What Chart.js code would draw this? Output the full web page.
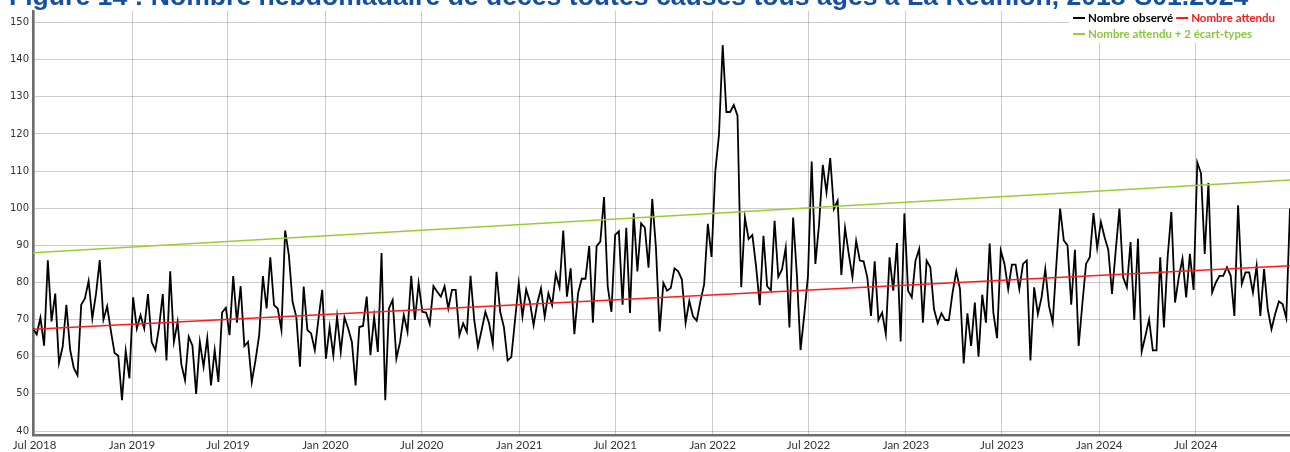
<!DOCTYPE html>
<html>
<head>
<meta charset="utf-8">
<script src="https://cdn.jsdelivr.net/npm/chart.js@4/dist/chart.umd.min.js"></script>
<style>
  html, body { margin: 0; padding: 0; background: #fff; }
  #wrap { position: relative; width: 1290px; height: 452px; }
</style>
</head>
<body>
<div id="wrap"><canvas id="deaths-chart"></canvas></div>
<script>
const TITLE = 'Figure 14 : Nombre hebdomadaire de décès toutes causes tous âges à La Réunion, 2018-S01.2024';

// weekly observed deaths, first week = end of June 2018
const firstWeek = '2018-06-28';
const observed = [
  67.6, 66, 70.5, 63, 86, 69.5, 77, 58.3, 62.7, 74,
  62, 57, 55, 74, 75.7, 80.4, 70.3, 77, 86, 70,
  73.6, 67, 61, 60.3, 48.3, 61.6, 54.2, 76, 67.6, 71.2,
  67.6, 76.9, 64, 61.8, 68, 76.9, 59, 83, 64, 69.4,
  58, 53.7, 65.4, 63, 50, 64, 57.3, 65, 52.3, 61.8,
  53.2, 71.9, 73.2, 65.8, 81.7, 69.2, 79, 62.9, 64, 53.2,
  59, 65.8, 81.7, 73, 86.8, 73.9, 73, 67.2, 94, 87.4,
  74.8, 70.8, 57.3, 78.9, 67.2, 66.3, 61.8, 70.3, 78, 59.5,
  68,
  60.4, 70.8, 61.3, 70.6, 67.6, 64, 52.3, 68, 68.3, 76.2,
  60.4, 70.8, 61.3, 87.9, 48.3, 73, 75.3, 59.5, 64, 71.2,
  66.7, 81.8, 69.9, 79.8, 72.1, 71.9, 68.8, 79, 77.5, 76.2,
  79, 73, 78, 78, 65.8, 69, 66.7, 81.8, 69.9, 62.7,
  67.2, 72.1, 69, 63.4, 82.9, 72.1, 68, 59, 59.9, 69.9,
  79.8, 70.8, 78.1, 74.8, 68.5, 74.4, 78.4, 70.8, 77.1, 73.9,
  82.3, 78.7, 94, 76.2, 83.8, 66.1, 77.1, 81, 81, 89.8,
  69.2, 89.8, 91, 103, 78.9, 72.1,
  92.8, 93.8, 74, 94.7, 71.8, 98.6, 83, 95.9, 94.8, 84,
  102.5, 89.4, 66.8, 79.9, 77.8, 78.5, 83.8, 83, 80.8, 69.1,
  75, 70.9, 69.7, 75, 79.5, 95.8, 86.9, 109.8, 119.7, 143.9,
  125.9, 125.9, 127.8, 124.9, 78.7, 97.5, 91.7, 92.8, 84.4, 73.9,
  92.6, 79, 77.8, 96.6, 81.5, 83.5, 89.4, 67.9, 97.5, 82.2,
  61.8, 71.3, 81.7,
  112.6, 85, 95.7, 111.7, 104.3, 113.5, 99.8, 102, 82, 94.7,
  87.7, 81.4, 91.2, 85.9, 85.7, 81.4, 71, 85.7, 69.9, 71.9,
  66.1, 86.8, 77.8, 90.6, 64.1, 98.6, 77.8, 76, 85.9, 89,
  69.2, 85.9, 84.1, 72.8, 69, 71.7, 69.9, 69.9, 77.3, 83,
  78.2, 58.2, 71.7, 62.9, 74.6, 60, 76.7, 69.2, 90.5, 71.9,
  65, 88.6, 85, 78.2, 84.8, 84.8, 78.2, 85, 85.9,
  59, 78.7, 71.5, 76, 83.6, 73.7, 69.2, 85, 99.9, 91.3,
  90, 74, 88.8, 62.9, 74.2, 85, 86.8, 98.7, 89.3, 96.3,
  92.2, 88.8, 76.9, 88.6, 99.9, 81.4, 78.7, 90.9, 69.9, 91.8,
  61.4, 65.6, 70.1, 61.7, 61.7, 86.8, 67.9, 86.8, 99, 74.6,
  81.4, 86.4, 76, 87.7, 78, 112.3, 109.4, 87.7, 106.8, 77.3,
  80, 81.8, 81.8, 84.1, 81.8, 71, 100.8, 79.6, 82.7, 82.7,
  77.3, 84.5, 71, 83.6, 72.8, 67.4, 71.5, 74.9, 74.2, 70.4, 99.9
];

// expected and expected + 2 SD, first and last week
const expected = [67.4, 84.5];
const threshold = [88.0, 107.6];

const tickDates = ['2018-07-01','2019-01-01','2019-07-01','2020-01-01','2020-07-01','2021-01-01','2021-07-01',
  '2022-01-01','2022-07-01','2023-01-01','2023-07-01','2024-01-01','2024-07-01'];
const tickLabels = ['Jul 2018','Jan 2019','Jul 2019','Jan 2020','Jul 2020','Jan 2021','Jul 2021',
  'Jan 2022','Jul 2022','Jan 2023','Jul 2023','Jan 2024','Jul 2024'];
const yTicks = [40, 50, 60, 70, 80, 90, 100, 110, 120, 130, 140, 150];

const lastIdx = observed.length - 1;
const weekOf = d => (Date.parse(d) - Date.parse(firstWeek)) / (7 * 86400000);

const titlePlugin = {
  id: 'pageTitle',
  afterDraw(chart) {
    const ctx = chart.ctx;
    ctx.save();
    ctx.font = 'bold 24px "Liberation Sans", Arial, sans-serif';
    const size = 24 * 1240 / ctx.measureText(TITLE).width;
    ctx.font = `bold ${size}px "Liberation Sans", Arial, sans-serif`;
    ctx.fillStyle = '#15509f';
    ctx.textBaseline = 'alphabetic';
    ctx.fillText(TITLE, 9, 5);
    ctx.restore();
  }
};

const legendPlugin = {
  id: 'cornerLegend',
  afterDraw(chart) {
    const ctx = chart.ctx;
    ctx.save();
    ctx.fillStyle = '#fff';
    ctx.fillRect(1069, 10, 221, 33);
    ctx.font = 'bold 11.5px Lato, sans-serif';
    ctx.textBaseline = 'middle';
    [[0, 1], [2]].forEach((row, r) => {
      let x = 1073;
      const y = 18 + r * 16;
      row.forEach(i => {
        const ds = chart.data.datasets[i];
        ctx.strokeStyle = ds.borderColor;
        ctx.lineWidth = 2;
        ctx.beginPath(); ctx.moveTo(x, y); ctx.lineTo(x + 12, y); ctx.stroke();
        x += 15;
        ctx.fillStyle = ds.legendColor;
        ctx.fillText(ds.label, x, y);
        x += ctx.measureText(ds.label).width + 3;
      });
    });
    ctx.restore();
  }
};

new Chart(document.getElementById('deaths-chart'), {
  type: 'line',
  data: {
    datasets: [
      {
        label: 'Nombre observé',
        data: observed.map((v, i) => ({ x: i, y: v })),
        borderColor: '#000',
        legendColor: '#000',
        borderWidth: 1.8,
        pointRadius: 0,
        tension: 0,
        order: 3,
      },
      {
        label: 'Nombre attendu',
        data: [{ x: 0, y: expected[0] }, { x: lastIdx, y: expected[1] }],
        borderColor: '#ff1a1a',
        legendColor: '#ff1a1a',
        borderWidth: 1.6,
        pointRadius: 0,
        order: 1,
      },
      {
        label: 'Nombre attendu + 2 écart-types',
        data: [{ x: 0, y: threshold[0] }, { x: lastIdx, y: threshold[1] }],
        borderColor: '#9acd32',
        legendColor: '#8cc63f',
        borderWidth: 1.6,
        pointRadius: 0,
        order: 2,
      },
    ],
  },
  options: {
    responsive: true,
    maintainAspectRatio: false,
    animation: false,
    events: [],
    layout: { padding: { top: 11, right: 0, left: 0, bottom: 0 } },
    plugins: { legend: { display: false }, tooltip: { enabled: false }, title: { display: false } },
    scales: {
      x: {
        type: 'linear',
        min: 0,
        max: lastIdx,
        afterBuildTicks: s => { s.ticks = tickDates.map(d => ({ value: weekOf(d) })); },
        afterFit: s => { s.height = 16.5; },
        ticks: {
          autoSkip: false,
          maxRotation: 0,
          padding: 3,
          color: '#333',
          font: { family: 'Lato', size: 11.5 },
          callback: (v, i) => tickLabels[i],
        },
        grid: { color: 'rgba(0,0,0,0.2)', lineWidth: 1, drawTicks: false },
        border: { display: true, color: '#6e6e6e', width: 2.5 },
      },
      y: {
        min: 38.8,
        max: 153.1,
        afterBuildTicks: s => { s.ticks = yTicks.map(v => ({ value: v })); },
        afterFit: s => { s.width = 33; },
        ticks: {
          padding: 4,
          color: '#333',
          font: { family: 'DejaVu Sans', size: 10 },
        },
        grid: { color: 'rgba(0,0,0,0.2)', lineWidth: 1, drawTicks: false },
        border: { display: true, color: '#6e6e6e', width: 2.5 },
      },
    },
  },
  plugins: [titlePlugin, legendPlugin],
});
</script>
</body>
</html>
